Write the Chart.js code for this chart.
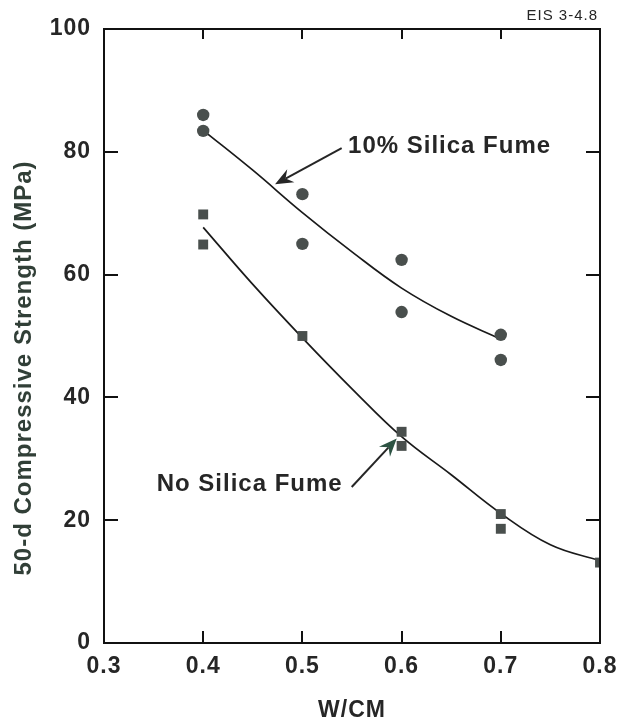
<!DOCTYPE html>
<html>
<head>
<meta charset="utf-8">
<script src="https://cdn.jsdelivr.net/npm/chart.js@4.4.1/dist/chart.umd.min.js"></script>
<style>
  html, body { margin: 0; padding: 0; background: #fff; }
  canvas { display: block; }
</style>
</head>
<body>
<canvas id="c" width="617" height="723"></canvas>
<script>
// Measured specimens: 10% silica fume
const sfW = [0.4, 0.4, 0.5, 0.5, 0.6, 0.6, 0.7, 0.7];
const sfStrength = [86.0, 83.4, 73.1, 65.0, 62.4, 53.9, 50.2, 46.1];
// Measured specimens: no silica fume
const plainW = [0.4, 0.4, 0.5, 0.6, 0.6, 0.7, 0.7, 0.8];
const plainStrength = [69.8, 64.9, 50.0, 34.4, 32.1, 21.0, 18.6, 13.1];
// Trend curves through each set
const sfFitW = [0.4, 0.45, 0.5, 0.55, 0.6, 0.65, 0.7];
const sfFit = [83.5, 77.0, 70.1, 63.7, 57.8, 53.2, 49.5];
const plainFitW = [0.4, 0.45, 0.5, 0.55, 0.6, 0.65, 0.7, 0.75, 0.8];
const plainFit = [67.7, 58.4, 49.7, 41.4, 33.6, 27.4, 21.1, 16.0, 13.4];
// Axis tick labels
const xTickLabels = ['0.3', '0.4', '0.5', '0.6', '0.7', '0.8'];
const yTickLabels = ['0', '20', '40', '60', '80', '100'];

const FONT = '"Liberation Sans", Arial, Helvetica, sans-serif';
const INK = '#262626';
const MARK = '#494f4d';

const pairs = (xs, ys) => xs.map((x, i) => ({ x: x, y: ys[i] }));

// Callouts naming each curve (data coordinates)
const callouts = [
  { text: '10% Silica Fume', tx: 0.546, ty: 79.8, from: [0.5396, 80.6], to: [0.4724, 74.7], head: '#262626' },
  { text: 'No Silica Fume', tx: 0.3531, ty: 24.8, from: [0.5497, 25.4], to: [0.5951, 33.3], head: '#2d5343' }
];

function arrow(ctx, x1, y1, x2, y2, headColor) {
  const ang = Math.atan2(y2 - y1, x2 - x1);
  const len = 18, half = 7.5, notch = 12;
  ctx.save();
  ctx.strokeStyle = INK;
  ctx.lineWidth = 2;
  ctx.beginPath();
  ctx.moveTo(x1, y1);
  ctx.lineTo(x2 - Math.cos(ang) * notch, y2 - Math.sin(ang) * notch);
  ctx.stroke();
  ctx.translate(x2, y2);
  ctx.rotate(ang);
  ctx.fillStyle = headColor;
  ctx.beginPath();
  ctx.moveTo(0, 0);
  ctx.lineTo(-len, -half);
  ctx.lineTo(-notch, 0);
  ctx.lineTo(-len, half);
  ctx.closePath();
  ctx.fill();
  ctx.restore();
}

const spacing = {
  id: 'spacing',
  beforeLayout(chart) { chart.ctx.letterSpacing = '1px'; },
  beforeDraw(chart) { chart.ctx.letterSpacing = '1px'; }
};

const frame = {
  id: 'frame',
  afterDraw(chart) {
    const ctx = chart.ctx;
    const a = chart.chartArea;
    const xs = chart.scales.x, ys = chart.scales.y;
    ctx.save();
    ctx.strokeStyle = '#111';
    ctx.lineWidth = 2;
    ctx.lineCap = 'butt';
    // top and right edges of the box
    ctx.beginPath();
    ctx.moveTo(a.left - 1, a.top);
    ctx.lineTo(a.right, a.top);
    ctx.lineTo(a.right, a.bottom + 1);
    ctx.stroke();
    // inward tick marks on all four sides
    ctx.beginPath();
    xTickLabels.slice(1, -1).forEach(t => {
      const px = Math.round(xs.getPixelForValue(parseFloat(t)));
      ctx.moveTo(px, a.bottom); ctx.lineTo(px, a.bottom - 12);
      ctx.moveTo(px, a.top); ctx.lineTo(px, a.top + 10);
    });
    yTickLabels.slice(1, -1).forEach(t => {
      const py = Math.round(ys.getPixelForValue(parseFloat(t)));
      ctx.moveTo(a.left, py); ctx.lineTo(a.left + 14, py);
      ctx.moveTo(a.right, py); ctx.lineTo(a.right - 14, py);
    });
    ctx.stroke();

    // callouts
    ctx.letterSpacing = '1px';
    ctx.fillStyle = INK;
    ctx.font = 'bold 24px ' + FONT;
    ctx.textAlign = 'left';
    ctx.textBaseline = 'alphabetic';
    callouts.forEach(c => {
      ctx.fillText(c.text, xs.getPixelForValue(c.tx), ys.getPixelForValue(c.ty));
      arrow(ctx,
        xs.getPixelForValue(c.from[0]), ys.getPixelForValue(c.from[1]),
        xs.getPixelForValue(c.to[0]), ys.getPixelForValue(c.to[1]), c.head);
    });

    // axis titles
    ctx.fillStyle = INK;
    ctx.font = 'bold 23px ' + FONT;
    ctx.textAlign = 'center';
    ctx.textBaseline = 'middle';
    ctx.fillText('W/CM', 352, 711);

    ctx.save();
    ctx.translate(24, 368);
    ctx.rotate(-Math.PI / 2);
    ctx.fillStyle = '#313f37';
    ctx.font = 'bold 24px ' + FONT;
    ctx.fillText('50-d Compressive Strength (MPa)', 0, 0);
    ctx.restore();

    // figure reference
    ctx.letterSpacing = '1px';
    ctx.fillStyle = INK;
    ctx.font = '15px ' + FONT;
    ctx.textAlign = 'right';
    ctx.textBaseline = 'alphabetic';
    ctx.fillText('EIS 3-4.8', 598, 20);
    ctx.restore();
  }
};

new Chart(document.getElementById('c'), {
  data: {
    datasets: [
      {
        type: 'line', data: pairs(sfFitW, sfFit),
        borderColor: '#1a1a1a', borderWidth: 1.7, pointRadius: 0,
        tension: 0.4, fill: false, order: 2
      },
      {
        type: 'line', data: pairs(plainFitW, plainFit),
        borderColor: '#1a1a1a', borderWidth: 1.7, pointRadius: 0,
        tension: 0.4, fill: false, order: 2
      },
      {
        type: 'scatter', data: pairs(sfW, sfStrength),
        pointStyle: 'circle', pointRadius: 6.2,
        backgroundColor: MARK, borderColor: MARK, borderWidth: 0, order: 1
      },
      {
        type: 'scatter', data: pairs(plainW, plainStrength),
        pointStyle: 'rect', pointRadius: 7,
        backgroundColor: MARK, borderColor: MARK, borderWidth: 0, order: 1
      }
    ]
  },
  options: {
    responsive: false,
    animation: false,
    events: [],
    layout: { padding: { top: 29, right: 17, left: 0, bottom: 0 } },
    plugins: { legend: { display: false }, tooltip: { enabled: false }, title: { display: false } },
    scales: {
      x: {
        type: 'linear', min: 0.3, max: 0.8,
        afterBuildTicks: s => { s.ticks = xTickLabels.map(t => ({ value: parseFloat(t) })); },
        afterFit: s => { s.height = 80; s.paddingLeft = 0; s.paddingRight = 0; },
        grid: { display: false, drawTicks: false },
        border: { display: true, color: '#111', width: 2 },
        ticks: {
          padding: 10, color: INK,
          font: { family: FONT, size: 23, weight: 'bold' },
          callback: (v, i) => xTickLabels[i]
        }
      },
      y: {
        type: 'linear', min: 0, max: 100,
        afterBuildTicks: s => { s.ticks = yTickLabels.map(t => ({ value: parseFloat(t) })); },
        afterFit: s => { s.width = 104; s.paddingTop = 0; s.paddingBottom = 0; },
        grid: { display: false, drawTicks: false },
        border: { display: true, color: '#111', width: 2 },
        ticks: {
          padding: 13, color: INK,
          font: { family: FONT, size: 23, weight: 'bold' },
          callback: (v, i) => yTickLabels[i]
        }
      }
    }
  },
  plugins: [spacing, frame]
});
</script>
</body>
</html>
